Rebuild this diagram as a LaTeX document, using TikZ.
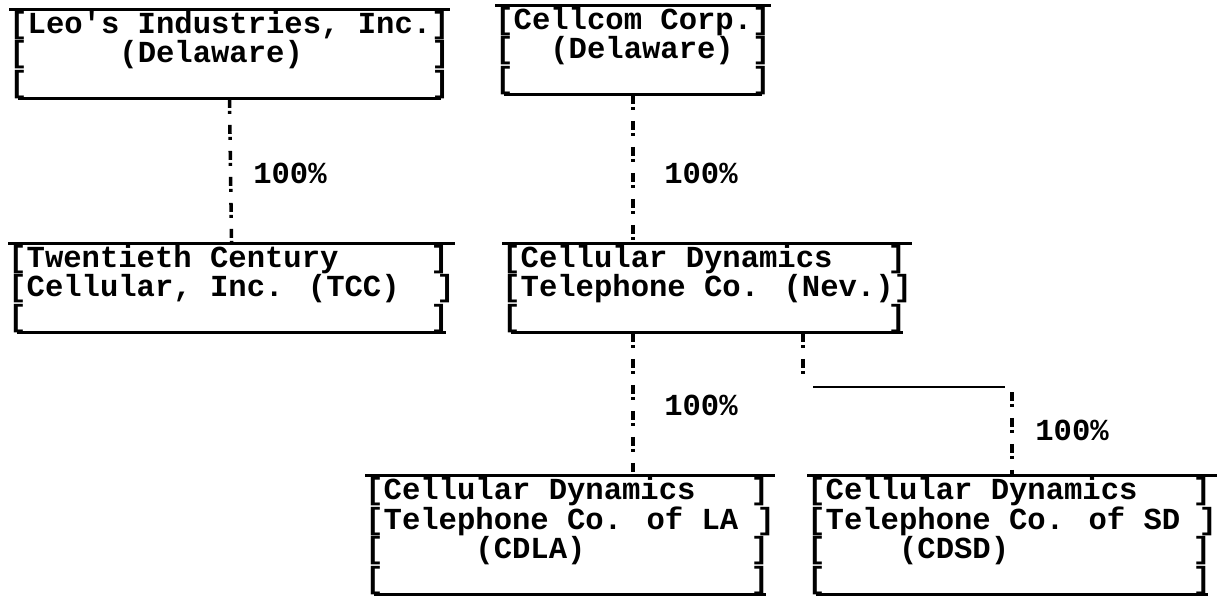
\documentclass[tikz,border=0pt]{standalone}
\usepackage{fontspec}
\newfontfamily\typer{Liberation Mono}
\newcommand{\typeface}{\typer\bfseries\fontsize{17.4pt}{12pt}\selectfont\lineskiplimit=0pt\lineskip=0.5pt}
\newcommand{\blank}[1]{\hspace*{#1\fontcharwd\font`\x}}

\begin{document}
\begin{tikzpicture}[x=0.02cm,y=-0.02cm,
    firm/.style={anchor=north west,inner sep=0pt,align=left,font=\typeface},
    rule/.style={line width=1.7pt},
    conn/.style={line width=2pt,dash pattern=on 0.18cm off 0.06cm on 0.06cm off 0.22cm},
    pct/.style={inner sep=0pt,font=\typeface}]
    \useasboundingbox (0,0) rectangle (1218,598);

    % --- TOP ROW ---
    \node[firm] (leo) at (9,11) {{[}Leo's Industries, Inc.]\\{[}\blank{5}(Delaware)\blank{7}]\\{[}\blank{22}]};
    \node[firm] (cellcom) at (495,7) {{[}Cellcom Corp.]\\{[}\blank{2}(Delaware)\blank{1}]\\{[}\blank{13}]};

    \draw[rule] ([yshift=1pt]leo.north west) -- ([yshift=1pt]leo.north east);
    \draw[rule] ([xshift=0.18cm]leo.south west) -- ([xshift=-0.18cm]leo.south east);
    \draw[rule] ([yshift=1pt]cellcom.north west) -- ([yshift=1pt]cellcom.north east);
    \draw[rule] ([xshift=0.18cm]cellcom.south west) -- ([xshift=-0.18cm]cellcom.south east);

    % --- MIDDLE ROW ---
    \node[firm] (tcc) at (8,245) {{[}Twentieth Century\blank{5}]\\{[}Cellular, Inc. (TCC)\blank{2}]\\{[}\blank{22}]};
    \node[firm] (nev) at (502,245) {{[}Cellular Dynamics\blank{3}]\\{[}Telephone Co. (Nev.)]\\{[}\blank{20}]};

    \draw[rule] ([yshift=1pt]tcc.north west) -- ([yshift=1pt]tcc.north east);
    \draw[rule] ([xshift=0.18cm]tcc.south west) -- ([xshift=-0.18cm]tcc.south east);
    \draw[rule] ([yshift=1pt]nev.north west) -- ([yshift=1pt]nev.north east);
    \draw[rule] ([xshift=0.18cm]nev.south west) -- ([xshift=-0.18cm]nev.south east);

    % --- BOTTOM ROW ---
    \node[firm] (cdla) at (365,477) {{[}Cellular Dynamics\blank{3}]\\{[}Telephone Co. of LA\blank{1}]\\{[}\blank{5}(CDLA)\blank{9}]\\{[}\blank{20}]};
    \node[firm] (cdsd) at (807,477) {{[}Cellular Dynamics\blank{3}]\\{[}Telephone Co. of SD\blank{1}]\\{[}\blank{4}(CDSD)\blank{10}]\\{[}\blank{20}]};

    \draw[rule] ([yshift=1pt]cdla.north west) -- ([yshift=1pt]cdla.north east);
    \draw[rule] ([xshift=0.18cm]cdla.south west) -- ([xshift=-0.18cm]cdla.south east);
    \draw[rule] ([yshift=1pt]cdsd.north west) -- ([yshift=1pt]cdsd.north east);
    \draw[rule] ([xshift=0.18cm]cdsd.south west) -- ([xshift=-0.18cm]cdsd.south east);

    % --- OWNERSHIP LINKS ---
    \draw[conn] (leo.south) -- ([yshift=1pt]tcc.north);
    \draw[conn] (cellcom.south) -- ([yshift=1pt]cellcom.south |- nev.north);
    \draw[conn] (cellcom.south |- nev.south) -- ([yshift=1pt]cellcom.south |- cdla.north);

    \coordinate (elbow) at (803,387);
    \draw[conn] (elbow |- nev.south) -- ([yshift=0.1cm]elbow);
    \draw[rule] ([xshift=0.2cm]elbow) -- ([xshift=-0.15cm]cdsd.north |- elbow);
    \draw[conn] ([yshift=-0.1cm]cdsd.north |- elbow) -- ([yshift=1pt]cdsd.north);

    \node[pct] (pctA) at (290,173) {100\%};
    \node[pct] (pctB) at (701,173) {100\%};
    \node[pct] (pctC) at (701,405) {100\%};
    \node[pct] (pctD) at (1072,430) {100\%};
\end{tikzpicture}
\end{document}
